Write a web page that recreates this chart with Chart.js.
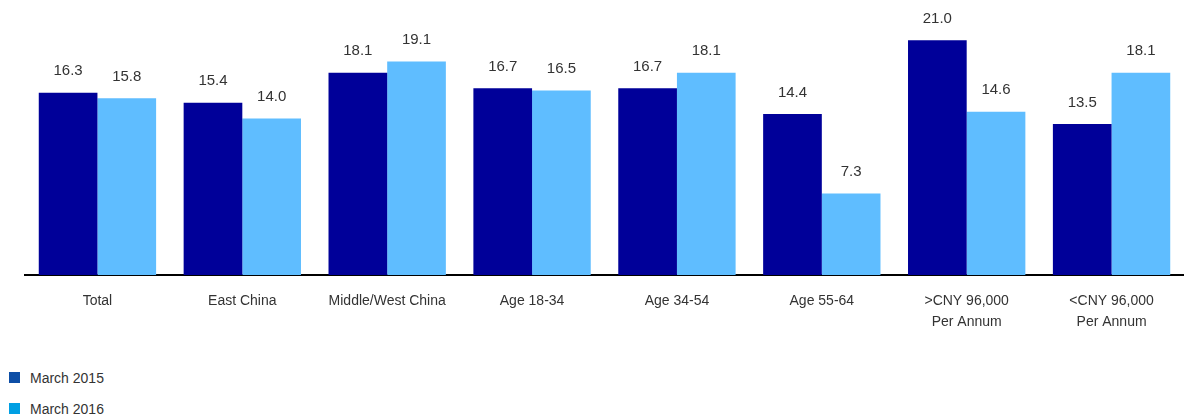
<!DOCTYPE html>
<html>
<head>
<meta charset="utf-8">
<script src="https://cdn.jsdelivr.net/npm/chart.js@4"></script>
<style>
  body { margin: 0; background: #fff; font-family: "Liberation Sans", Arial, sans-serif; }
  #wrap { position: relative; width: 1184px; height: 341px; }
  #legend { margin: 29px 0 0 9px; font-size: 14px; color: #333; }
  #legend div { height: 31px; display: flex; align-items: flex-start; }
  #legend span.box { display: inline-block; width: 11px; height: 11px; margin: 2px 10px 0 0; }
</style>
</head>
<body>
<div id="wrap"><canvas id="graph"></canvas></div>
<div id="legend"></div>
<script>
const categories = [
  'Total', 'East China', 'Middle/West China', 'Age 18-34', 'Age 34-54', 'Age 55-64',
  ['>CNY 96,000', 'Per Annum'], ['<CNY 96,000', 'Per Annum']
];
const march2015 = [16.3, 15.4, 18.1, 16.7, 16.7, 14.4, 21.0, 13.5];
const march2016 = [15.8, 14.0, 19.1, 16.5, 18.1, 7.3, 14.6, 18.1];
const seriesNames = ['March 2015', 'March 2016'];
const barColors = ['#000099', '#5fbdff'];
const legendColors = ['#0d4ea6', '#009fe3'];

// value labels above each bar
const valueLabels = {
  id: 'valueLabels',
  afterDatasetsDraw(chart) {
    const ctx = chart.ctx;
    ctx.save();
    ctx.font = '15px "Liberation Sans", Arial, sans-serif';
    ctx.fillStyle = '#333';
    ctx.textAlign = 'center';
    ctx.textBaseline = 'bottom';
    chart.data.datasets.forEach((ds, i) => {
      chart.getDatasetMeta(i).data.forEach((bar, j) => {
        ctx.fillText(ds.data[j].toFixed(1), bar.x, bar.y - 14);
      });
    });
    ctx.restore();
  }
};

const ctx = document.getElementById('graph').getContext('2d');
const barChart = new Chart(ctx, {
  type: 'bar',
  data: {
    labels: categories,
    datasets: [
      { label: seriesNames[0], data: march2015, backgroundColor: barColors[0] },
      { label: seriesNames[1], data: march2016, backgroundColor: barColors[1] }
    ]
  },
  options: {
    responsive: true,
    maintainAspectRatio: false,
    animation: false,
    layout: { padding: { left: 25, right: 0, top: 0, bottom: 0 } },
    datasets: {
      bar: { categoryPercentage: 0.81, barPercentage: 1.0 }
    },
    scales: {
      x: {
        grid: { display: false },
        border: { color: '#000', width: 2 },
        ticks: {
          color: '#333',
          font: { size: 14, family: '"Liberation Sans", Arial, sans-serif', lineHeight: 1.5 },
          maxRotation: 0,
          autoSkip: false,
          padding: 8
        }
      },
      y: {
        display: false,
        min: 0,
        max: 24.6
      }
    },
    plugins: {
      legend: { display: false },
      tooltip: { enabled: false }
    }
  },
  plugins: [valueLabels]
});

const legendEl = document.getElementById('legend');
seriesNames.forEach((name, i) => {
  const row = document.createElement('div');
  row.innerHTML = '<span class="box" style="background:' + legendColors[i] + '"></span>' + name;
  legendEl.appendChild(row);
});
</script>
</body>
</html>
